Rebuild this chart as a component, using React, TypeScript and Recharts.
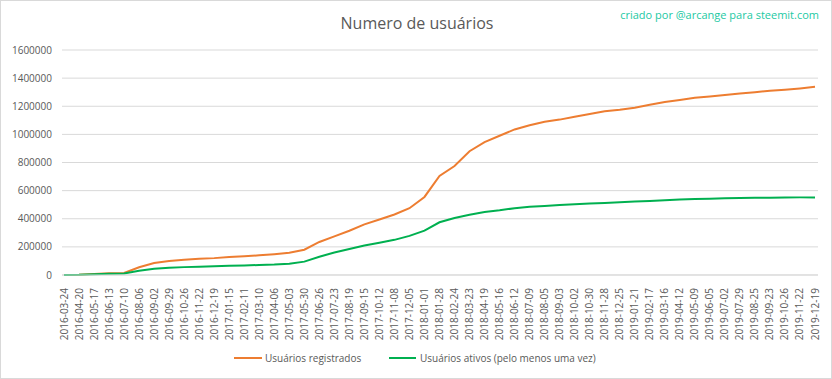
import { LineChart, Line, XAxis, YAxis, CartesianGrid } from 'recharts';

const dates = [
  '2016-03-24', '2016-04-20', '2016-05-17', '2016-06-13', '2016-07-10', '2016-08-06', '2016-09-02',
  '2016-09-29', '2016-10-26', '2016-11-22', '2016-12-19', '2017-01-15', '2017-02-11', '2017-03-10',
  '2017-04-06', '2017-05-03', '2017-05-30', '2017-06-26', '2017-07-23', '2017-08-19', '2017-09-15',
  '2017-10-12', '2017-11-08', '2017-12-05', '2018-01-01', '2018-01-28', '2018-02-24', '2018-03-23',
  '2018-04-19', '2018-05-16', '2018-06-12', '2018-07-09', '2018-08-05', '2018-09-03', '2018-10-02',
  '2018-10-30', '2018-11-28', '2018-12-25', '2019-01-21', '2019-02-17', '2019-03-16', '2019-04-12',
  '2019-05-09', '2019-06-05', '2019-07-02', '2019-07-29', '2019-08-25', '2019-09-23', '2019-10-26',
  '2019-11-22', '2019-12-19',
];

const registrados = [
  0, 2000, 8000, 12000, 15000, 55000, 85000,
  100000, 108000, 115000, 120000, 128000, 133000, 140000,
  148000, 158000, 180000, 235000, 275000, 315000, 360000,
  395000, 430000, 475000, 555000, 705000, 775000, 880000,
  945000, 990000, 1035000, 1065000, 1090000, 1105000, 1125000,
  1145000, 1165000, 1175000, 1190000, 1210000, 1230000, 1245000,
  1260000, 1270000, 1280000, 1290000, 1300000, 1310000, 1318000,
  1327000, 1338000,
];

const ativos = [
  0, 1000, 6000, 9000, 11000, 30000, 45000,
  52000, 56000, 59000, 62000, 65000, 68000, 71000,
  74000, 80000, 95000, 130000, 160000, 185000, 210000,
  230000, 250000, 278000, 315000, 375000, 405000, 428000,
  448000, 460000, 475000, 485000, 490000, 497000, 503000,
  508000, 512000, 517000, 522000, 527000, 532000, 537000,
  540000, 543000, 545000, 547000, 549000, 550000, 551000,
  552000, 552000,
];

const yTicks = [0, 200000, 400000, 600000, 800000, 1000000, 1200000, 1400000, 1600000];

const data = dates.map((d, i) => ({ date: d, registrados: registrados[i], ativos: ativos[i] }));

const font = "'Open Sans', sans-serif";
const grey = '#595959';

const DateTick = (props: any) => {
  const { x, y, payload } = props;
  return (
    <g transform={`translate(${x},${y})`}>
      <text
        transform="rotate(-90)"
        x={-5}
        y={0}
        dy="0.35em"
        textAnchor="end"
        fontSize={10}
        fontFamily={font}
        fill={grey}
      >
        {payload.value}
      </text>
    </g>
  );
};

const App = () => {
  return (
    <div
      style={{
        position: 'absolute',
        left: 0,
        top: 0,
        width: 832,
        height: 379,
        boxSizing: 'border-box',
        border: '1px solid #d9d9d9',
        background: '#fff',
        fontFamily: font,
      }}
    >
      <div
        style={{
          position: 'absolute',
          top: 11,
          left: 0,
          width: 832,
          textAlign: 'center',
          fontSize: 16,
          color: grey,
        }}
      >
        Numero de usuários
      </div>
      <div
        style={{
          position: 'absolute',
          top: 6,
          right: 12,
          fontSize: 11,
          color: '#22c9a3',
        }}
      >
        criado por @arcange para steemit.com
      </div>

      <div style={{ position: 'absolute', left: -1, top: -1 }}>
        <LineChart width={832} height={379} data={data} margin={{ top: 50, right: 14, left: 0, bottom: 44 }}>
          <CartesianGrid horizontal vertical={false} stroke="#d9d9d9" />
          <XAxis
            dataKey="date"
            interval={0}
            tick={<DateTick />}
            tickLine={false}
            axisLine={{ stroke: '#d9d9d9' }}
            height={60}
            padding={{ left: 2, right: 3 }}
          />
          <YAxis
            domain={[0, 1600000]}
            ticks={yTicks}
            width={62}
            tickSize={0}
            tickMargin={10}
            tickLine={false}
            axisLine={false}
            tick={{ fontSize: 10, fontFamily: font, fill: grey }}
          />
          <Line
            type="linear"
            dataKey="registrados"
            stroke="#ED7D31"
            strokeWidth={2}
            dot={false}
            isAnimationActive={false}
          />
          <Line
            type="linear"
            dataKey="ativos"
            stroke="#00B050"
            strokeWidth={2}
            dot={false}
            isAnimationActive={false}
          />
        </LineChart>
      </div>

      <div
        style={{
          position: 'absolute',
          top: 350,
          left: 233,
          display: 'flex',
          alignItems: 'center',
          fontSize: 10,
          color: grey,
        }}
      >
        <span style={{ display: 'inline-block', width: 28, height: 2, background: '#ED7D31', marginRight: 3 }} />
        <span style={{ width: 124 }}>Usuários registrados</span>
        <span style={{ display: 'inline-block', width: 27, height: 2, background: '#00B050', marginRight: 4 }} />
        <span>Usuários ativos (pelo menos uma vez)</span>
      </div>
    </div>
  );
};

export default App;
